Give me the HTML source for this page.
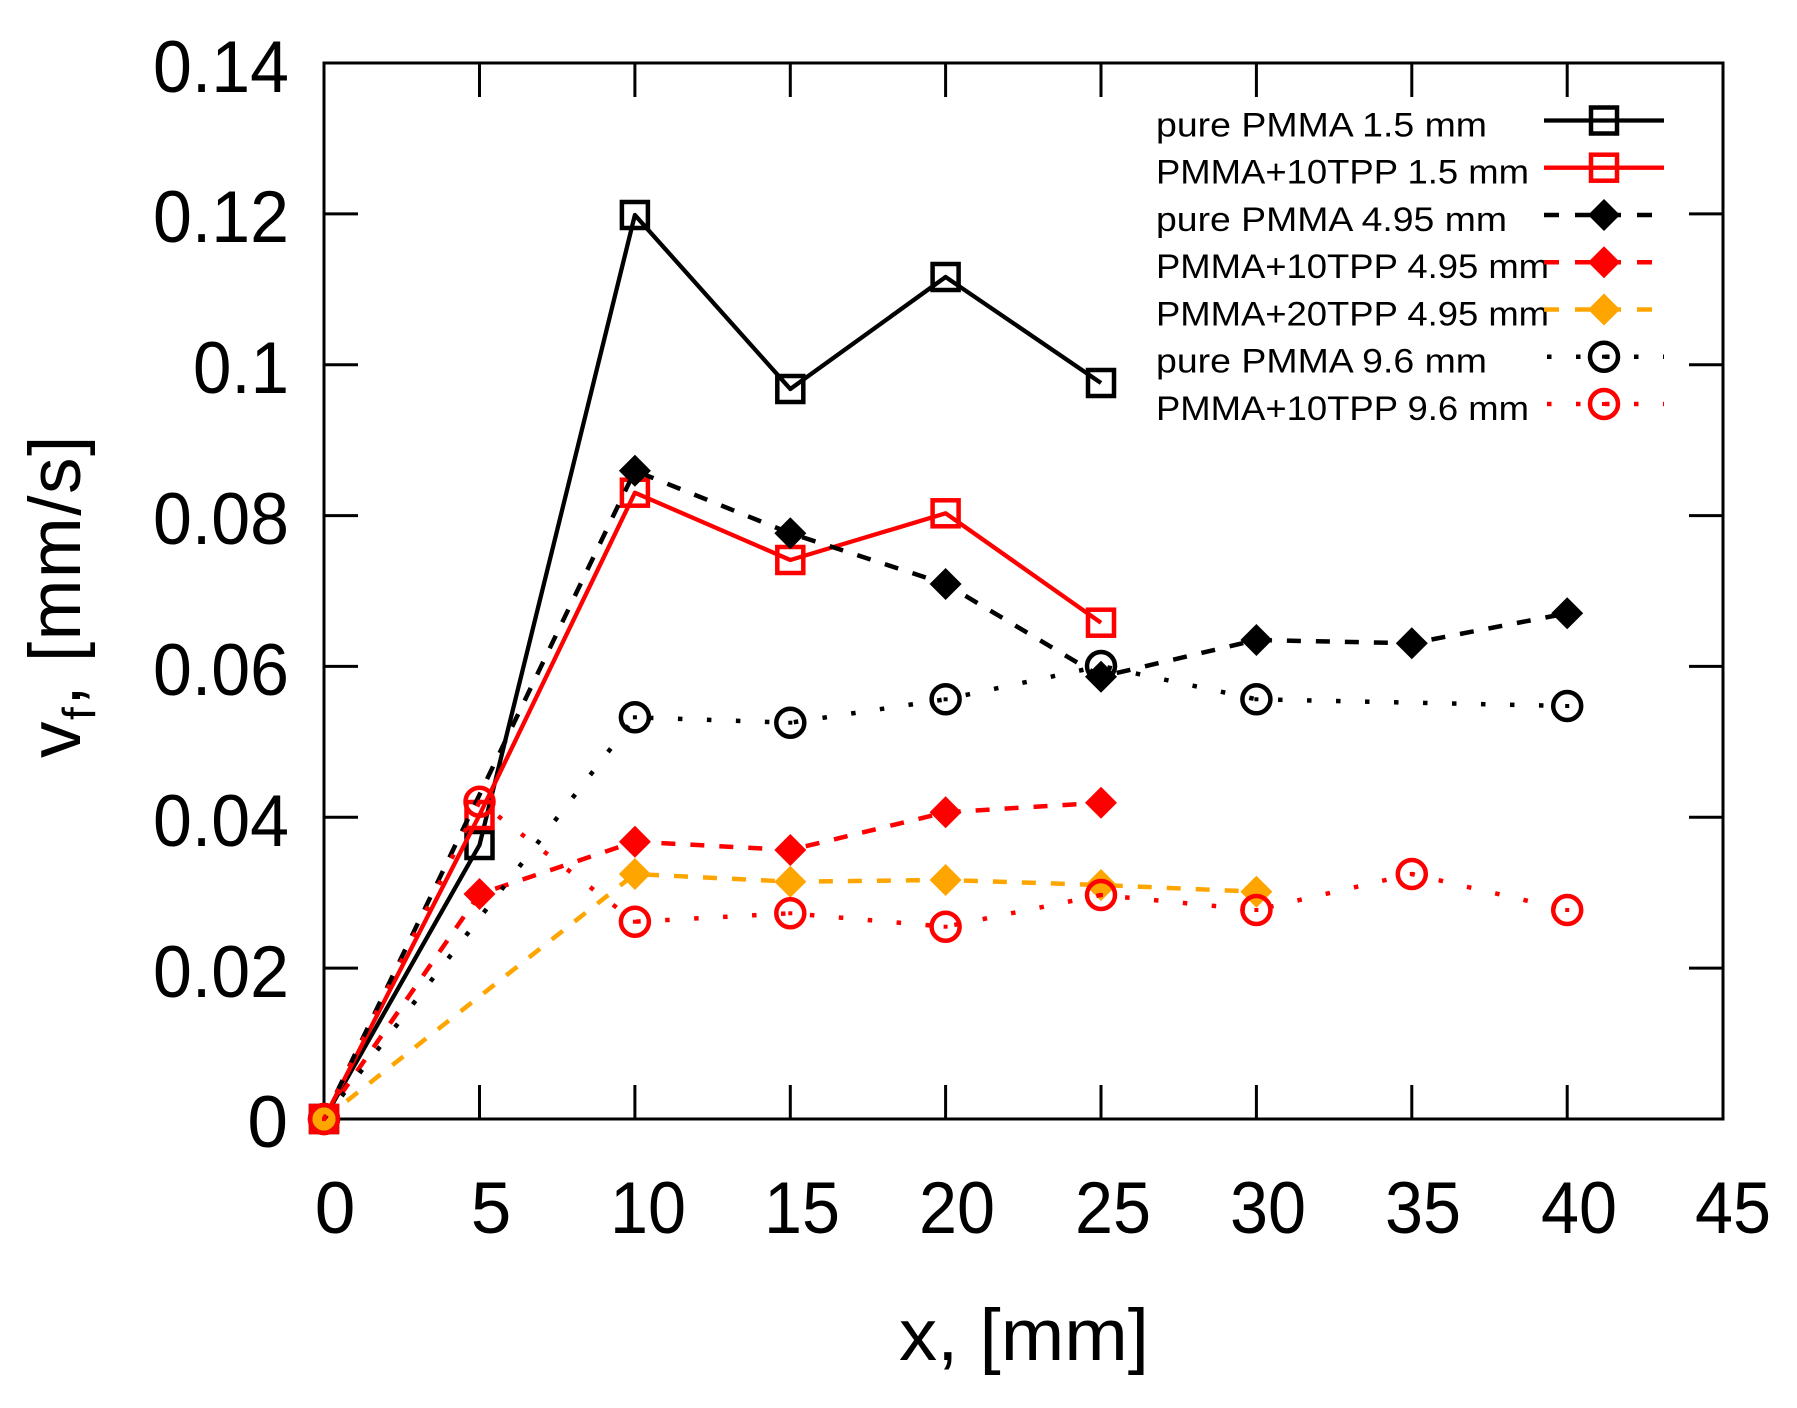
<!DOCTYPE html>
<html><head><meta charset="utf-8"><style>
html,body{margin:0;padding:0;background:#fff;}
svg{display:block;}
text{font-family:"Liberation Sans","DejaVu Sans",sans-serif;fill:#000;}
</style></head><body>
<svg width="1797" height="1408" viewBox="0 0 1797 1408" xmlns="http://www.w3.org/2000/svg">
<defs>
<rect id="sqK" x="-13" y="-13" width="26" height="26" fill="none" stroke="#000" stroke-width="4.5"/>
<rect id="sqR" x="-13" y="-13" width="26" height="26" fill="none" stroke="#f00" stroke-width="4.5"/>
<polygon id="dK" points="0,-16 16,0 0,16 -16,0" fill="#000"/>
<polygon id="dR" points="0,-16 16,0 0,16 -16,0" fill="#f00"/>
<polygon id="dO" points="0,-16 16,0 0,16 -16,0" fill="#ffa500"/>
<g id="cK"><circle r="14" fill="none" stroke="#000" stroke-width="4.5"/><rect x="-2" y="-2" width="4" height="4" fill="#000"/></g>
<g id="cR"><circle r="14" fill="none" stroke="#f00" stroke-width="4.5"/><rect x="-2" y="-2" width="4" height="4" fill="#f00"/></g>
</defs>

<!-- frame -->
<rect x="324" y="63" width="1399" height="1056" fill="none" stroke="#000" stroke-width="3"/>
<g stroke="#000" stroke-width="3">
<line x1="479.5" y1="1119" x2="479.5" y2="1085"/><line x1="479.5" y1="63" x2="479.5" y2="97"/>
<line x1="634.9" y1="1119" x2="634.9" y2="1085"/><line x1="634.9" y1="63" x2="634.9" y2="97"/>
<line x1="790.3" y1="1119" x2="790.3" y2="1085"/><line x1="790.3" y1="63" x2="790.3" y2="97"/>
<line x1="945.6" y1="1119" x2="945.6" y2="1085"/><line x1="945.6" y1="63" x2="945.6" y2="97"/>
<line x1="1101" y1="1119" x2="1101" y2="1085"/><line x1="1101" y1="63" x2="1101" y2="97"/>
<line x1="1256.4" y1="1119" x2="1256.4" y2="1085"/><line x1="1256.4" y1="63" x2="1256.4" y2="97"/>
<line x1="1411.8" y1="1119" x2="1411.8" y2="1085"/><line x1="1411.8" y1="63" x2="1411.8" y2="97"/>
<line x1="1567.2" y1="1119" x2="1567.2" y2="1085"/><line x1="1567.2" y1="63" x2="1567.2" y2="97"/>
<line x1="324" y1="968.1" x2="358" y2="968.1"/><line x1="1723" y1="968.1" x2="1689" y2="968.1"/>
<line x1="324" y1="817.3" x2="358" y2="817.3"/><line x1="1723" y1="817.3" x2="1689" y2="817.3"/>
<line x1="324" y1="666.4" x2="358" y2="666.4"/><line x1="1723" y1="666.4" x2="1689" y2="666.4"/>
<line x1="324" y1="515.6" x2="358" y2="515.6"/><line x1="1723" y1="515.6" x2="1689" y2="515.6"/>
<line x1="324" y1="364.7" x2="358" y2="364.7"/><line x1="1723" y1="364.7" x2="1689" y2="364.7"/>
<line x1="324" y1="213.9" x2="358" y2="213.9"/><line x1="1723" y1="213.9" x2="1689" y2="213.9"/>
</g>

<!-- y tick labels -->
<g font-size="73" text-anchor="end">
<text x="288" y="1147">0</text>
<text x="289" y="997" textLength="136" lengthAdjust="spacingAndGlyphs">0.02</text>
<text x="289" y="846" textLength="136" lengthAdjust="spacingAndGlyphs">0.04</text>
<text x="289" y="695" textLength="136" lengthAdjust="spacingAndGlyphs">0.06</text>
<text x="289" y="544" textLength="136" lengthAdjust="spacingAndGlyphs">0.08</text>
<text x="289" y="393" textLength="96" lengthAdjust="spacingAndGlyphs">0.1</text>
<text x="289" y="242" textLength="136" lengthAdjust="spacingAndGlyphs">0.12</text>
<text x="289" y="92" textLength="136" lengthAdjust="spacingAndGlyphs">0.14</text>
</g>
<!-- x tick labels -->
<g font-size="73" text-anchor="middle">
<text x="335" y="1233">0</text>
<text x="491" y="1233">5</text>
<text x="648" y="1233" textLength="76" lengthAdjust="spacingAndGlyphs">10</text>
<text x="802" y="1233" textLength="76" lengthAdjust="spacingAndGlyphs">15</text>
<text x="957" y="1233" textLength="76" lengthAdjust="spacingAndGlyphs">20</text>
<text x="1113" y="1233" textLength="76" lengthAdjust="spacingAndGlyphs">25</text>
<text x="1268" y="1233" textLength="76" lengthAdjust="spacingAndGlyphs">30</text>
<text x="1423" y="1233" textLength="76" lengthAdjust="spacingAndGlyphs">35</text>
<text x="1579" y="1233" textLength="76" lengthAdjust="spacingAndGlyphs">40</text>
<text x="1733" y="1233" textLength="76" lengthAdjust="spacingAndGlyphs">45</text>
</g>

<!-- axis titles -->
<text x="899" y="1360" font-size="73" textLength="250" lengthAdjust="spacingAndGlyphs">x, [mm]</text>
<text transform="translate(80,758) rotate(-90)" font-size="73" letter-spacing="1.5">v<tspan font-size="46" dy="15">f</tspan><tspan dy="-15">, [mm/s]</tspan></text>

<!-- series 1 -->
<polyline points="324,1119 479.5,845 634.9,215 790.3,389 945.6,277 1101,383" fill="none" stroke="#000" stroke-width="4.3" stroke-linejoin="round"/>
<use href="#sqK" x="324" y="1119"/><use href="#sqK" x="479.5" y="845"/><use href="#sqK" x="634.9" y="215"/><use href="#sqK" x="790.3" y="389"/><use href="#sqK" x="945.6" y="277"/><use href="#sqK" x="1101" y="383"/>

<!-- series 2 -->
<polyline points="324,1119 479.5,815 634.9,492.7 790.3,560 945.6,513.3 1101,622.7" fill="none" stroke="#f00" stroke-width="4.3" stroke-linejoin="round"/>
<use href="#sqR" x="324" y="1119"/><use href="#sqR" x="479.5" y="815"/><use href="#sqR" x="634.9" y="492.7"/><use href="#sqR" x="790.3" y="560"/><use href="#sqR" x="945.6" y="513.3"/><use href="#sqR" x="1101" y="622.7"/>

<!-- series 3 -->
<polyline points="324,1119 634.9,470.7 790.3,533.3 945.6,584 1101,676.7 1256.4,640 1411.8,643.3 1567.2,613.3" fill="none" stroke="#000" stroke-width="4.5" stroke-dasharray="14 15"/>
<use href="#dK" x="324" y="1119"/><use href="#dK" x="634.9" y="470.7"/><use href="#dK" x="790.3" y="533.3"/><use href="#dK" x="945.6" y="584"/><use href="#dK" x="1101" y="676.7"/><use href="#dK" x="1256.4" y="640"/><use href="#dK" x="1411.8" y="643.3"/><use href="#dK" x="1567.2" y="613.3"/>

<!-- series 4 -->
<polyline points="324,1119 479.5,894 634.9,841.7 790.3,850 945.6,812.3 1101,802.7" fill="none" stroke="#f00" stroke-width="4.5" stroke-dasharray="14 15"/>
<use href="#dR" x="324" y="1119"/><use href="#dR" x="479.5" y="894"/><use href="#dR" x="634.9" y="841.7"/><use href="#dR" x="790.3" y="850"/><use href="#dR" x="945.6" y="812.3"/><use href="#dR" x="1101" y="802.7"/>

<!-- series 5 -->
<polyline points="324,1119 634.9,874 790.3,881.7 945.6,880 1101,885 1256.4,891.7" fill="none" stroke="#ffa500" stroke-width="4.5" stroke-dasharray="14 15"/>
<use href="#dO" x="324" y="1119"/><use href="#dO" x="634.9" y="874"/><use href="#dO" x="790.3" y="881.7"/><use href="#dO" x="945.6" y="880"/><use href="#dO" x="1101" y="885"/><use href="#dO" x="1256.4" y="891.7"/>

<!-- series 6 -->
<polyline points="324,1119 634.9,717.3 790.3,722.7 945.6,699.3 1101,666 1256.4,699.3 1567.2,706" fill="none" stroke="#000" stroke-width="4.5" stroke-dasharray="4.5 24.5"/>
<use href="#cK" x="324" y="1119"/><use href="#cK" x="634.9" y="717.3"/><use href="#cK" x="790.3" y="722.7"/><use href="#cK" x="945.6" y="699.3"/><use href="#cK" x="1101" y="666"/><use href="#cK" x="1256.4" y="699.3"/><use href="#cK" x="1567.2" y="706"/>

<!-- series 7 -->
<polyline points="324,1119 479.5,801.7 634.9,921.7 790.3,913.3 945.6,926.7 1101,895 1256.4,910 1411.8,874 1567.2,910" fill="none" stroke="#f00" stroke-width="4.5" stroke-dasharray="4.5 24.5"/>
<use href="#cR" x="324" y="1119"/><use href="#cR" x="479.5" y="801.7"/><use href="#cR" x="634.9" y="921.7"/><use href="#cR" x="790.3" y="913.3"/><use href="#cR" x="945.6" y="926.7"/><use href="#cR" x="1101" y="895"/><use href="#cR" x="1256.4" y="910"/><use href="#cR" x="1411.8" y="874"/><use href="#cR" x="1567.2" y="910"/>

<!-- legend -->
<g font-size="34">
<text x="1156" y="136.5" textLength="331" lengthAdjust="spacingAndGlyphs">pure PMMA 1.5 mm</text>
<text x="1156" y="183.7" textLength="373" lengthAdjust="spacingAndGlyphs">PMMA+10TPP 1.5 mm</text>
<text x="1156" y="231" textLength="351" lengthAdjust="spacingAndGlyphs">pure PMMA 4.95 mm</text>
<text x="1156" y="278.2" textLength="393" lengthAdjust="spacingAndGlyphs">PMMA+10TPP 4.95 mm</text>
<text x="1156" y="325.5" textLength="393" lengthAdjust="spacingAndGlyphs">PMMA+20TPP 4.95 mm</text>
<text x="1156" y="372.7" textLength="331" lengthAdjust="spacingAndGlyphs">pure PMMA 9.6 mm</text>
<text x="1156" y="420" textLength="373" lengthAdjust="spacingAndGlyphs">PMMA+10TPP 9.6 mm</text>
</g>
<line x1="1544" y1="120.5" x2="1664" y2="120.5" stroke="#000" stroke-width="4.3"/>
<use href="#sqK" x="1604" y="120.5"/>
<line x1="1544" y1="167.7" x2="1664" y2="167.7" stroke="#f00" stroke-width="4.3"/>
<use href="#sqR" x="1604" y="167.7"/>
<line x1="1544" y1="215" x2="1664" y2="215" stroke="#000" stroke-width="4.5" stroke-dasharray="15 16"/>
<use href="#dK" x="1604" y="215"/>
<line x1="1544" y1="262.2" x2="1664" y2="262.2" stroke="#f00" stroke-width="4.5" stroke-dasharray="15 16"/>
<use href="#dR" x="1604" y="262.2"/>
<line x1="1544" y1="309.5" x2="1664" y2="309.5" stroke="#ffa500" stroke-width="4.5" stroke-dasharray="15 16"/>
<use href="#dO" x="1604" y="309.5"/>
<line x1="1547" y1="356.7" x2="1664" y2="356.7" stroke="#000" stroke-width="4.5" stroke-dasharray="4.5 24.5"/>
<use href="#cK" x="1604" y="356.7"/>
<line x1="1547" y1="404" x2="1664" y2="404" stroke="#f00" stroke-width="4.5" stroke-dasharray="4.5 24.5"/>
<use href="#cR" x="1604" y="404"/>
</svg>
</body></html>
